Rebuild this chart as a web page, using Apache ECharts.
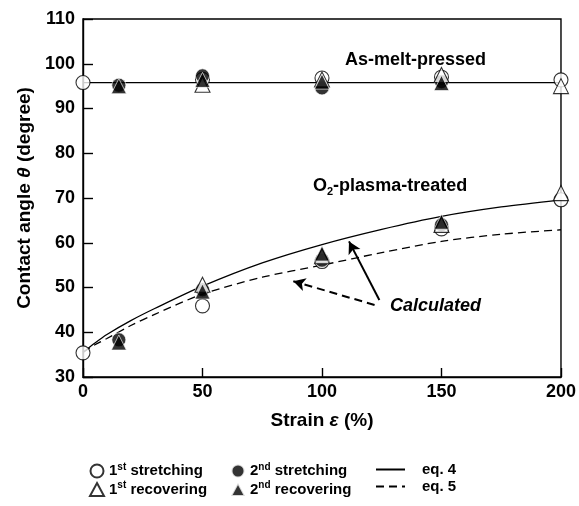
<!DOCTYPE html>
<html><head><meta charset="utf-8">
<script src="https://cdn.jsdelivr.net/npm/echarts@6/dist/echarts.min.js"></script>
<style>html,body{margin:0;padding:0;background:#fff}#c{width:579px;height:506px}</style>
</head><body><div id="c"></div>
<script>
// ---- data ----
const xTicks = [0, 50, 100, 150, 200];
const yTicks = [30, 40, 50, 60, 70, 80, 90, 100, 110];

// 1st stretching (open circles)
const st1Strain = [0, 50, 100, 150, 200];
const st1Melt   = [95.8, 96.5, 96.8, 97.0, 96.4];
const st1O2     = [35.4, 45.9, 55.8, 63.1, 69.6];
// 2nd stretching (filled circles)
const st2Strain = [15, 50, 100, 150];
const st2Melt   = [95.2, 97.3, 94.6, 96.0];
const st2O2     = [38.3, 49.5, 56.1, 64.0];
// 1st recovering (open triangles)
const rc1Strain = [50, 100, 150, 200];
const rc1Melt   = [95.3, 96.5, 97.5, 95.0];
const rc1O2     = [50.6, 57.0, 64.0, 71.1];
// 2nd recovering (filled triangles)
const rc2Strain = [15, 50, 100, 150];
const rc2Melt   = [95.0, 96.4, 96.0, 95.7];
const rc2O2     = [37.7, 49.1, 57.6, 64.7];

// calculated curves
const curveStrain = [0, 5, 10, 20, 30, 50, 75, 100, 125, 150, 175, 200];
const eq4 = [35.5, 37.6, 39.5, 42.6, 45.3, 50.3, 55.5, 59.6, 63.0, 65.9, 68.0, 69.6];
const eq5 = [35.5, 37.2, 38.6, 41.5, 44.0, 48.5, 52.3, 55.0, 57.8, 60.3, 61.9, 62.9];
// as-melt-pressed level
const meltLevelStrain = [0, 200];
const meltLevel = [95.8, 95.8];

// annotation arrows (data coordinates)
const solidArrow  = [[124, 47.2], [111.3, 60.3]];
const dashedArrow = [[122, 46.1], [88, 51.4]];

// ---- build ----
const pairs = (xs, ys) => xs.map((x, i) => [x, ys[i]]);
const FONT = 'Liberation Sans, Arial, sans-serif';

const chart = echarts.init(document.getElementById('c'), null, {renderer: 'canvas'});

const legRich = {
  b: {fontSize: 15, fontWeight: 'bold', fontFamily: FONT, color: '#000', lineHeight: 18},
  e: {fontSize: 15, fontWeight: 'bold', fontFamily: FONT, color: '#000', lineHeight: 18, padding: [0, 0, 0, 12]},
  s: {fontSize: 10, fontWeight: 'bold', fontFamily: FONT, color: '#000', lineHeight: 18, verticalAlign: 'top'}
};
const legFmt = {
  '1st stretching': '{b|1}{s|st}{b| stretching}',
  '2nd stretching': '{b|2}{s|nd}{b| stretching}',
  '1st recovering': '{b|1}{s|st}{b| recovering}',
  '2nd recovering': '{b|2}{s|nd}{b| recovering}',
  'eq. 4': '{e|eq. 4}',
  'eq. 5': '{e|eq. 5}'
};
function leg(names, left, iw, extra) {
  return Object.assign({
    orient: 'vertical', left: left, top: 457, itemGap: 2,
    itemWidth: iw, itemHeight: 13, data: names,
    formatter: n => legFmt[n],
    textStyle: {rich: legRich, fontFamily: FONT},
    selectedMode: false
  }, extra || {});
}

const option = {
  animation: false,
  backgroundColor: '#fff',
  grid: {left: 83, right: 17, top: 19, bottom: 129, show: true, borderColor: '#000', borderWidth: 1.4},
  xAxis: {
    type: 'value', min: 0, max: 200, interval: 50,
    name: '{n|Strain }{i|ε}{n| (%)}', nameLocation: 'middle', nameGap: 34,
    nameTextStyle: {rich: {
      n: {fontSize: 19, fontWeight: 'bold', fontFamily: FONT, color: '#000'},
      i: {fontSize: 19, fontWeight: 'bold', fontStyle: 'italic', fontFamily: FONT, color: '#000'}}},
    axisLine: {lineStyle: {color: '#000', width: 1.4}},
    axisTick: {inside: true, length: 9, lineStyle: {color: '#000', width: 1.4}},
    axisLabel: {margin: 6, fontSize: 18, fontWeight: 'bold', fontFamily: FONT, color: '#000',
                formatter: v => xTicks.includes(v) ? String(v) : ''},
    splitLine: {show: false}
  },
  yAxis: {
    type: 'value', min: 30, max: 110, interval: 10,
    name: '{n|Contact angle }{i|θ}{n| (degree)}', nameLocation: 'middle', nameGap: 49, nameRotate: 90,
    nameTextStyle: {rich: {
      n: {fontSize: 19, fontWeight: 'bold', fontFamily: FONT, color: '#000'},
      i: {fontSize: 19, fontWeight: 'bold', fontStyle: 'italic', fontFamily: FONT, color: '#000'}}},
    axisLine: {lineStyle: {color: '#000', width: 1.4}},
    axisTick: {inside: true, length: 10, lineStyle: {color: '#000', width: 1.4}},
    axisLabel: {margin: 8, fontSize: 18, fontWeight: 'bold', fontFamily: FONT, color: '#000',
                formatter: v => yTicks.includes(v) ? String(v) : ''},
    splitLine: {show: false}
  },
  legend: [
    leg(['1st stretching', '1st recovering'], 84, 14),
    leg(['2nd stretching', '2nd recovering'], 225, 14),
    leg(['eq. 4', 'eq. 5'], 370, 29, {itemStyle: {color: 'rgba(0,0,0,0)', borderColor: 'rgba(0,0,0,0)', borderWidth: 0}})
  ],
  series: [
    {name: 'as-melt', type: 'line', data: pairs(meltLevelStrain, meltLevel), symbol: 'none',
     lineStyle: {color: '#000', width: 1.3}, z: 1, silent: true},
    {name: 'eq. 4', type: 'line', data: pairs(curveStrain, eq4), symbol: 'none', showSymbol: false,
     smooth: 0.3,
     lineStyle: {color: '#000', width: 1.3, type: 'solid'}, itemStyle: {color: '#000'}, z: 1},
    {name: 'eq. 5', type: 'line', data: pairs(curveStrain, eq5), symbol: 'none', showSymbol: false,
     smooth: 0.3,
     lineStyle: {color: '#000', width: 1.3, type: [8, 5]}, itemStyle: {color: '#000'}, z: 1},
    {name: '1st stretching', type: 'scatter', symbol: 'circle', symbolSize: 14,
     data: pairs(st1Strain, st1Melt).concat(pairs(st1Strain, st1O2)),
     itemStyle: {color: '#fff', borderColor: '#000', borderWidth: 1.1}, z: 3},
    {name: '2nd stretching', type: 'scatter', symbol: 'circle', symbolSize: 14,
     data: pairs(st2Strain, st2Melt).concat(pairs(st2Strain, st2O2)),
     itemStyle: {color: '#000', borderColor: '#fff', borderWidth: 0.8}, z: 3},
    {name: '1st recovering', type: 'scatter', symbol: 'triangle', symbolSize: 15,
     data: pairs(rc1Strain, rc1Melt).concat(pairs(rc1Strain, rc1O2)),
     itemStyle: {color: '#fff', borderColor: '#000', borderWidth: 1.1}, z: 3},
    {name: '2nd recovering', type: 'scatter', symbol: 'triangle', symbolSize: 15,
     data: pairs(rc2Strain, rc2Melt).concat(pairs(rc2Strain, rc2O2)),
     itemStyle: {color: '#000', borderColor: '#fff', borderWidth: 0.8}, z: 3},
    {name: 'arrows', type: 'line', data: [], silent: true,
     markLine: {silent: true, symbol: ['none', 'arrow'], symbolSize: [10, 12], label: {show: false},
       data: [
         [{coord: solidArrow[0], lineStyle: {type: 'solid', color: '#000', width: 2}},
          {coord: solidArrow[1]}],
         [{coord: dashedArrow[0], lineStyle: {type: [8, 5], color: '#000', width: 2}},
          {coord: dashedArrow[1]}]
       ]}}
  ],
  graphic: [
    {type: 'text', left: 345, top: 51, style: {text: 'As-melt-pressed', fontSize: 18, fontWeight: 'bold', fontFamily: FONT, fill: '#000'}},
    {type: 'text', left: 313, top: 177, style: {
      text: '{b|O}{s|2}{b|-plasma-treated}', fontFamily: FONT,
      rich: {b: {fontSize: 18, fontWeight: 'bold', fontFamily: FONT, fill: '#000', lineHeight: 22},
             s: {fontSize: 11, fontWeight: 'bold', fontFamily: FONT, fill: '#000', lineHeight: 22, verticalAlign: 'bottom'}}}},
    {type: 'text', left: 390, top: 297, style: {text: 'Calculated', fontSize: 18, fontWeight: 'bold', fontStyle: 'italic', fontFamily: FONT, fill: '#000'}}
  ]
};
chart.setOption(option);
</script></body></html>
